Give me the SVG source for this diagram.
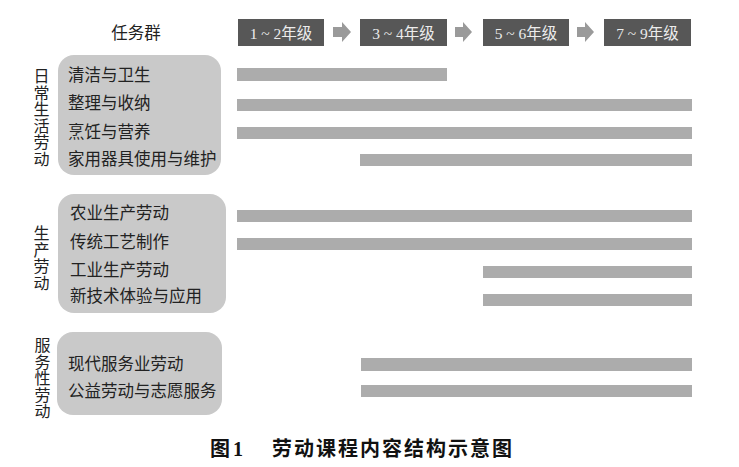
<svg xmlns="http://www.w3.org/2000/svg" width="739" height="467" viewBox="0 0 739 467">
<style>
text{font-family:"Liberation Serif","Noto Sans CJK SC",serif;fill:#222}
.t{font-size:16.5px}
.v{font-size:16px;writing-mode:vertical-rl;letter-spacing:0.5px}
.grp{fill:#c9c9c9}
.bar{fill:#acacac}
.hb{fill:#575757}
.ht{font-size:15.5px;fill:#ececec;text-anchor:middle}
.arr{fill:#9a9a9a}
.cap{font-size:20px;font-weight:bold;fill:#111}
</style>
<rect width="739" height="467" fill="#fff"/>
<g id="header">
<text class="t" x="136" y="39" text-anchor="middle">任务群</text>
<g id="g12"><rect class="hb" x="238" y="19" width="86" height="27"/><text class="ht" x="281" y="38.5">1 ~ 2年级</text></g>
<g id="g34"><rect class="hb" x="360" y="19" width="87" height="27"/><text class="ht" x="403.5" y="38.5">3 ~ 4年级</text></g>
<g id="g56"><rect class="hb" x="483" y="19" width="86" height="27"/><text class="ht" x="526" y="38.5">5 ~ 6年级</text></g>
<g id="g79"><rect class="hb" x="604" y="19" width="87" height="27"/><text class="ht" x="647.5" y="38.5">7 ~ 9年级</text></g>
</g>
<g id="connectors">
<path class="arr" d="M333 27h9v-5l9 10l-9 10v-5h-9z"/>
<path class="arr" d="M455 27h8v-5l9 10l-9 10v-5h-8z"/>
<path class="arr" d="M577 27h8v-5l9 10l-9 10v-5h-8z"/>
</g>
<g id="daily">
<text class="v" x="40" y="68">日常生活劳动</text>
<rect class="grp" x="58" y="55" width="163" height="120" rx="16"/>
<text class="t" x="68" y="81">清洁与卫生</text>
<text class="t" x="68" y="109">整理与收纳</text>
<text class="t" x="68" y="138">烹饪与营养</text>
<text class="t" x="68" y="165">家用器具使用与维护</text>
<rect class="bar" x="237" y="68" width="210" height="13"/>
<rect class="bar" x="237" y="99" width="455" height="12"/>
<rect class="bar" x="237" y="127" width="455" height="12"/>
<rect class="bar" x="360" y="154" width="332" height="12"/>
</g>
<g id="production">
<text class="v" x="40" y="225">生产劳动</text>
<rect class="grp" x="58" y="194" width="168" height="119" rx="16"/>
<text class="t" x="70" y="219">农业生产劳动</text>
<text class="t" x="70" y="248">传统工艺制作</text>
<text class="t" x="70" y="276">工业生产劳动</text>
<text class="t" x="70" y="302">新技术体验与应用</text>
<rect class="bar" x="237" y="210" width="455" height="12"/>
<rect class="bar" x="237" y="238" width="455" height="12"/>
<rect class="bar" x="483" y="266" width="209" height="12"/>
<rect class="bar" x="483" y="294" width="209" height="12"/>
</g>
<g id="service">
<text class="v" x="41" y="337">服务性劳动</text>
<rect class="grp" x="57" y="332" width="165" height="83" rx="16"/>
<text class="t" x="68" y="370">现代服务业劳动</text>
<text class="t" x="68" y="397">公益劳动与志愿服务</text>
<rect class="bar" x="361" y="358" width="331" height="13"/>
<rect class="bar" x="361" y="385" width="331" height="12"/>
</g>
<text class="cap" y="456"><tspan x="210">图</tspan><tspan x="233">1</tspan><tspan x="272" letter-spacing="2">劳动课程内容结构示意图</tspan></text>
</svg>
